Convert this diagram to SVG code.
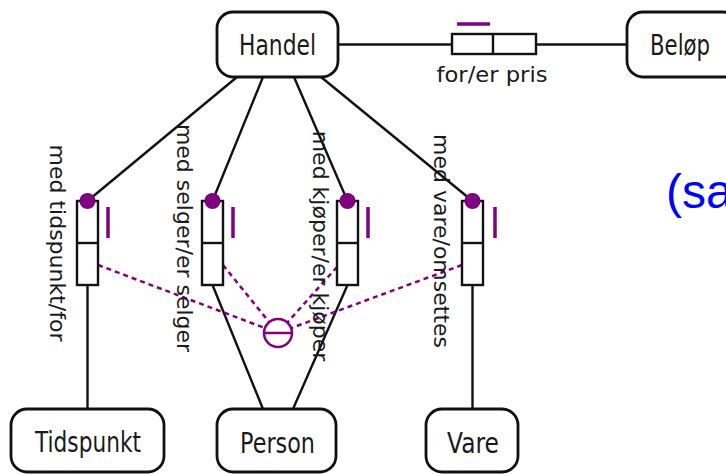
<svg xmlns="http://www.w3.org/2000/svg" width="726" height="474" viewBox="0 0 726 474">
<style>
.node{fill:#fff;stroke:#111;stroke-width:2.8}
.lbl{font-family:"DejaVu Sans","Liberation Sans",sans-serif;font-size:28px;fill:#1a1a1a;text-anchor:middle}
.rl{font-family:"DejaVu Sans","Liberation Sans",sans-serif;font-size:22px;fill:#1a1a1a;text-anchor:middle}
.ln{stroke:#111;stroke-width:2.4;fill:none}
.dash{stroke:#800080;stroke-width:2.5;stroke-dasharray:5 4;fill:none}
.role{fill:#fff;stroke:#111;stroke-width:2.4}
.bar{stroke:#800080;stroke-width:3.5}
.dot{fill:#800080}
</style>
<rect width="726" height="474" fill="#fff"/>
<g id="connectors">
<line class="ln" x1="338" y1="44.5" x2="452" y2="44.5"/>
<line class="ln" x1="536" y1="44.5" x2="627" y2="44.5"/>
<line class="ln" x1="237" y1="77" x2="87.5" y2="201"/>
<line class="ln" x1="263" y1="77" x2="212.5" y2="201"/>
<line class="ln" x1="294" y1="77" x2="347.5" y2="201"/>
<line class="ln" x1="321" y1="77" x2="472.5" y2="201"/>
<line class="ln" x1="87.5" y1="285" x2="87.5" y2="409"/>
<line class="ln" x1="212.5" y1="285" x2="263" y2="409"/>
<line class="ln" x1="347.5" y1="285" x2="293" y2="409"/>
<line class="ln" x1="472.5" y1="285" x2="472.5" y2="409"/>
<line class="dash" x1="98" y1="265" x2="264.9" y2="328"/>
<line class="dash" x1="223" y1="265" x2="269.2" y2="322.1"/>
<line class="dash" x1="337" y1="267" x2="287.3" y2="322.6"/>
<line class="dash" x1="462" y1="265" x2="291.1" y2="328.1"/>
</g>
<g id="Handel">
<rect class="node" x="217" y="12" width="121" height="65" rx="16"/>
<text class="lbl" x="277.5" y="55" textLength="77" lengthAdjust="spacingAndGlyphs">Handel</text>
</g>
<g id="Belop">
<rect class="node" x="627" y="12" width="112" height="65" rx="16"/>
<text class="lbl" x="680" y="55" textLength="60" lengthAdjust="spacingAndGlyphs">Beløp</text>
</g>
<g id="Tidspunkt">
<rect class="node" x="11" y="409" width="153" height="63" rx="16"/>
<text class="lbl" x="88" y="452" textLength="106" lengthAdjust="spacingAndGlyphs">Tidspunkt</text>
</g>
<g id="Person">
<rect class="node" x="217" y="409" width="119" height="63" rx="16"/>
<text class="lbl" x="277.5" y="453" textLength="75" lengthAdjust="spacingAndGlyphs">Person</text>
</g>
<g id="Vare">
<rect class="node" x="426" y="409" width="92" height="63" rx="16"/>
<text class="lbl" x="473" y="453" textLength="52" lengthAdjust="spacingAndGlyphs">Vare</text>
</g>
<g id="role-pris">
<rect class="role" x="452" y="34" width="84" height="20"/>
<line class="ln" x1="493" y1="34" x2="493" y2="54"/>
<line class="bar" x1="457" y1="24" x2="490" y2="24"/>
<text class="rl" x="492" y="82" textLength="111" lengthAdjust="spacingAndGlyphs">for/er pris</text>
</g>
<g id="role-tidspunkt">
<rect class="role" x="77" y="201" width="21" height="84"/>
<line class="ln" x1="77" y1="243" x2="98" y2="243"/>
<circle class="dot" cx="87.5" cy="201" r="8"/>
<line class="bar" x1="108" y1="207" x2="108" y2="238"/>
<text class="rl" transform="translate(50,243) rotate(90)">med tidspunkt/for</text>
</g>
<g id="role-selger">
<rect class="role" x="202" y="201" width="21" height="84"/>
<line class="ln" x1="202" y1="243" x2="223" y2="243"/>
<circle class="dot" cx="212.5" cy="201" r="8"/>
<line class="bar" x1="233" y1="207" x2="233" y2="238"/>
<text class="rl" transform="translate(177,238) rotate(90)">med selger/er selger</text>
</g>
<g id="role-kjoper">
<rect class="role" x="337" y="201" width="21" height="84"/>
<line class="ln" x1="337" y1="243" x2="358" y2="243"/>
<circle class="dot" cx="347.5" cy="201" r="8"/>
<line class="bar" x1="368" y1="207" x2="368" y2="238"/>
<text class="rl" transform="translate(313,246) rotate(90)">med kjøper/er kjøper</text>
</g>
<g id="role-vare">
<rect class="role" x="462" y="201" width="21" height="84"/>
<line class="ln" x1="462" y1="243" x2="483" y2="243"/>
<circle class="dot" cx="472.5" cy="201" r="8"/>
<line class="bar" x1="495" y1="207" x2="495" y2="238"/>
<text class="rl" transform="translate(434,241) rotate(90)">med vare/omsettes</text>
</g>
<g id="exclusion">
<circle cx="278" cy="333" r="14" fill="#fff" stroke="#800080" stroke-width="2.5"/>
<line x1="264" y1="333" x2="292" y2="333" stroke="#800080" stroke-width="2.5"/>
</g>
<text x="666" y="208" font-family="Liberation Sans, Arial, sans-serif" font-size="48" fill="#0000ff">(sa</text>
</svg>
